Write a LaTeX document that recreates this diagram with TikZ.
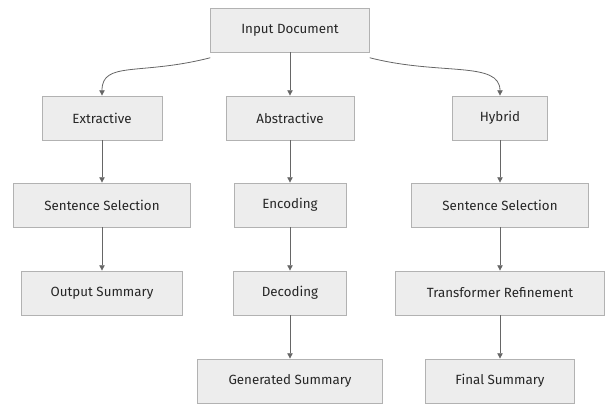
\documentclass[tikz,border=0pt]{standalone}
\usepackage{fontspec}
\setmainfont{Fira Sans}
\usetikzlibrary{arrows.meta}
\begin{document}
\begin{tikzpicture}[x=0.75pt,y=-0.75pt,
  box/.style={draw=black!30,fill=black!7,line width=0.6pt,minimum height=33pt,inner sep=0pt,
    text=black!85,font=\fontsize{10}{12}\selectfont},
  arr/.style={draw=black!60,line width=0.6pt,-{Triangle[length=4pt,width=4pt]}}]
\useasboundingbox (0,0) rectangle (606,405);
\node[box,minimum width=119pt] (in) at (290,30) {Input Document};
\node[box,minimum width=90pt] (ext) at (102,118) {Extractive};
\node[box,minimum width=96pt] (abs) at (290,118) {Abstractive};
\node[box,minimum width=71pt] (hyb) at (500,118) {Hybrid};
\node[box,minimum width=133pt] (ssl) at (102,205) {Sentence Selection};
\node[box,minimum width=84pt] (enc) at (290,205) {Encoding};
\node[box,minimum width=133pt] (ssr) at (500,205) {Sentence Selection};
\node[box,minimum width=121pt] (out) at (102,293) {Output Summary};
\node[box,minimum width=85pt] (dec) at (290,293) {Decoding};
\node[box,minimum width=157pt] (tr) at (500,293) {Transformer Refinement};
\node[box,minimum width=139pt] (gen) at (290,381) {Generated Summary};
\node[box,minimum width=112pt] (fin) at (500,381) {Final Summary};
\draw[arr] ([yshift=-4pt]in.south west) .. controls +(-70,18) and +(0,-35) .. (ext.north);
\draw[arr] ([yshift=-4pt]in.south east) .. controls +(70,18) and +(0,-35) .. (hyb.north);
\draw[arr] (in) -- (abs);
\draw[arr] (ext) -- (ssl);
\draw[arr] (ssl) -- (out);
\draw[arr] (abs) -- (enc);
\draw[arr] (enc) -- (dec);
\draw[arr] (dec) -- (gen);
\draw[arr] (hyb) -- (ssr);
\draw[arr] (ssr) -- (tr);
\draw[arr] (tr) -- (fin);
\end{tikzpicture}
\end{document}
